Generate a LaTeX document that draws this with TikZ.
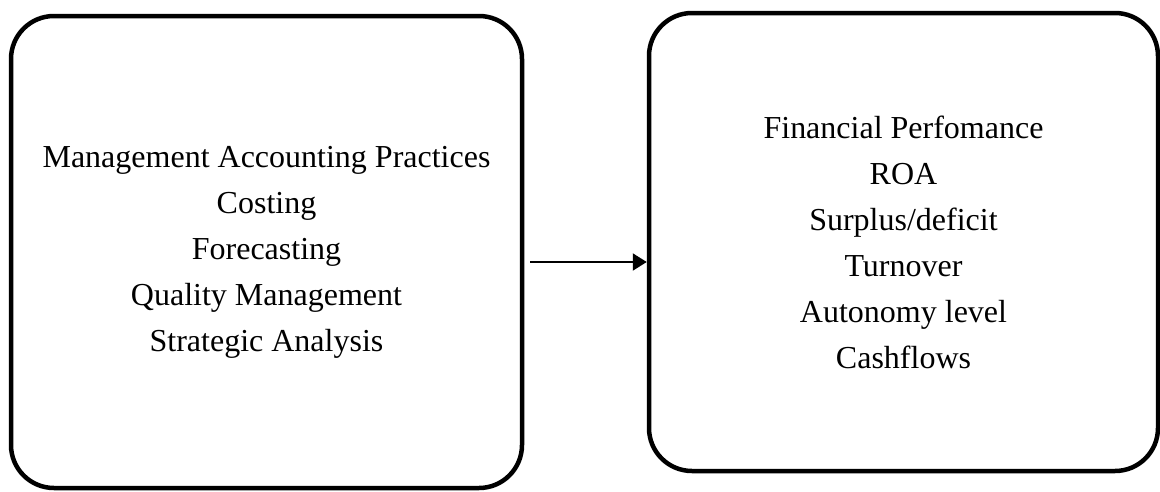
\documentclass[tikz,border=0pt]{standalone}
\usepackage{fontspec}
\setmainfont{Liberation Serif}
\usetikzlibrary{arrows.meta}
\begin{document}
\begin{tikzpicture}[x=1pt,y=-1pt,
  roundbox/.style={draw=black, line width=4.5pt, rounded corners=43pt, align=center,
    inner sep=0pt, font=\fontsize{32}{46}\selectfont},
  link/.style={draw=black, line width=2pt, -{Triangle[length=14pt,width=17pt]}}]
\useasboundingbox (0,0) rectangle (1160,491);
\node[roundbox, minimum width=511pt, minimum height=472pt] (L) at (266.5,252)
  {Management Accounting Practices\\Costing\\Forecasting\\Quality Management\\Strategic Analysis};
\node[roundbox, minimum width=509pt, minimum height=458pt] (R) at (903.5,242)
  {Financial Perfomance\\ROA\\Surplus/deficit\\Turnover\\Autonomy level\\Cashflows};
\coordinate (s) at (530,262);
\draw[link] (s) -- (s -| R.west);
\end{tikzpicture}
\end{document}
